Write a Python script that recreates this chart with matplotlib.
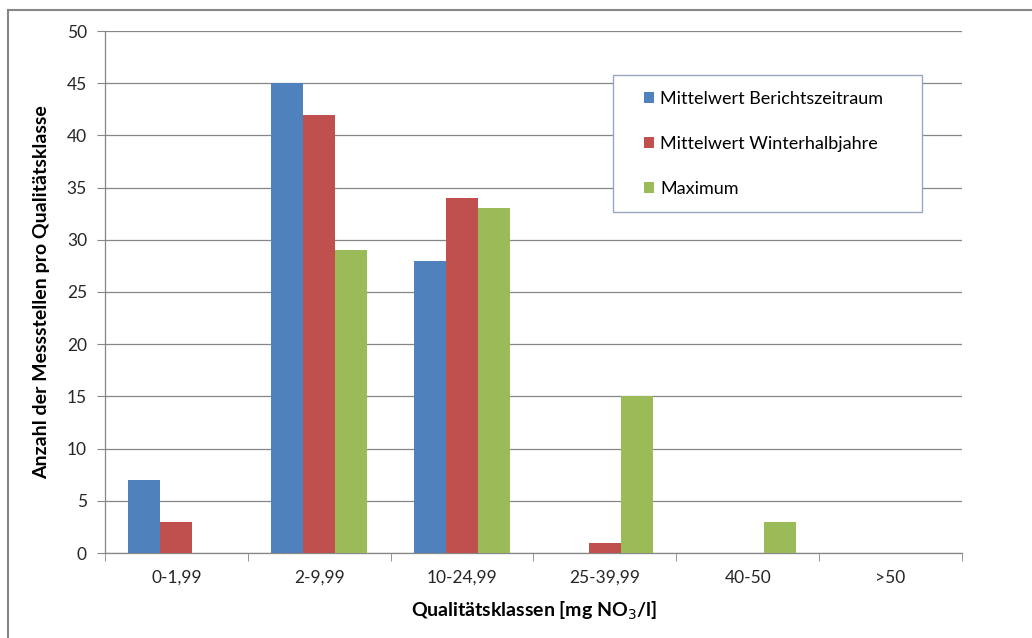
import numpy as np
import matplotlib
matplotlib.use("Agg")
import matplotlib.pyplot as plt
from matplotlib.lines import Line2D
from matplotlib.patches import Rectangle

plt.rcParams["font.family"] = ["Lato", "DejaVu Sans"]

CLASSES = ["0-1,99", "2-9,99", "10-24,99", "25-39,99", "40-50", ">50"]
MEAN_PERIOD = [7, 45, 28, 0, 0, 0]
MEAN_WINTER = [3, 42, 34, 1, 0, 0]
MAXIMUM = [0, 29, 33, 15, 3, 0]

SERIES = [
	("Mittelwert Berichtszeitraum", MEAN_PERIOD, "#4F81BD"),
	("Mittelwert Winterhalbjahre", MEAN_WINTER, "#C0504D"),
	("Maximum", MAXIMUM, "#9BBB59"),
]

W, H = 1032, 638
fig = plt.figure(figsize=(W / 100, H / 100), dpi=100)
ax = fig.add_axes([105 / W, 1 - 553 / H, (962 - 105) / W, (553 - 31) / H])

x = np.arange(len(CLASSES))
width = 0.224
for i, (label, values, color) in enumerate(SERIES):
	ax.bar(x + (i - 1) * width, values, width, color=color, label=label, zorder=3)

ax.set_xlim(-0.5, len(CLASSES) - 0.5)
ax.set_ylim(0, 50)
ax.set_yticks(range(0, 51, 5))
ax.set_xticks(x)
ax.set_xticklabels(CLASSES)
ax.set_xticks(np.arange(-0.5, len(CLASSES)), minor=True)
ax.tick_params(axis="x", which="major", length=0, pad=12, labelsize=12.5, colors="#262626")
ax.tick_params(axis="x", which="minor", length=6, color="#868686", direction="out")
ax.tick_params(axis="y", length=6, color="#868686", pad=7, labelsize=12.5, labelcolor="#262626")

ax.grid(axis="y", color="#868686", linewidth=0.9, zorder=0)
for side in ("top", "right"):
	ax.spines[side].set_visible(False)
for side in ("left", "bottom"):
	ax.spines[side].set_color("#868686")
	ax.spines[side].set_linewidth(0.9)

ax.set_xlabel("Qualitätsklassen [mg NO$_3$/l]", fontsize=14, fontweight="bold", labelpad=10)
ax.set_ylabel("Anzahl der Messstellen pro Qualitätsklasse", fontsize=14, fontweight="bold", labelpad=12)

# legend box drawn separately so its padding can be set freely
fig.add_artist(Rectangle((613 / W, 1 - 212 / H), (922 - 613) / W, (212 - 75) / H,
	transform=fig.transFigure, facecolor="white", edgecolor="#95A8C2", linewidth=1.0, zorder=5))
leg = fig.legend(
	*ax.get_legend_handles_labels(),
	loc="upper left",
	bbox_to_anchor=(644 / W, 1 - 91 / H),
	bbox_transform=fig.transFigure,
	frameon=False,
	fontsize=13,
	handlelength=0.55,
	handleheight=0.55,
	handletextpad=0.35,
	labelspacing=1.6,
	borderpad=0,
	borderaxespad=0,
)
leg.set_zorder(6)

# outer chart frame
fig.add_artist(Line2D([8 / W, 8 / W], [0, 1 - 10 / H], color="#868686", linewidth=1.5))
fig.add_artist(Line2D([8 / W, 1], [1 - 10 / H, 1 - 10 / H], color="#868686", linewidth=1.5))

fig.savefig("out.png", dpi=100)
